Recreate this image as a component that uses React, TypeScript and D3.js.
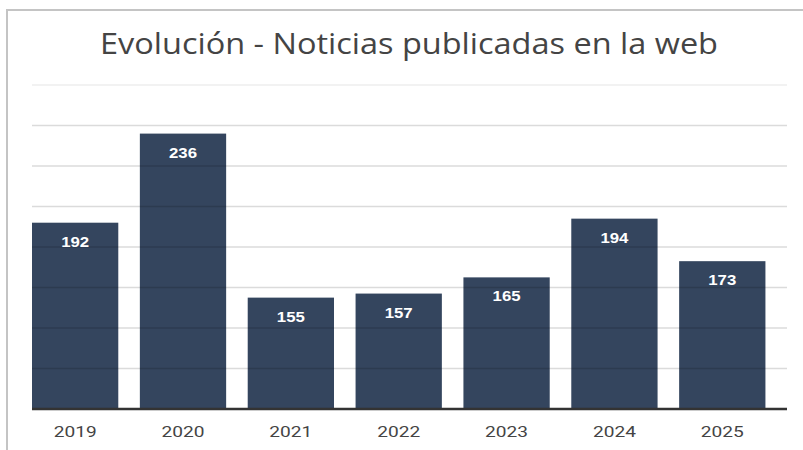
import React from "react";
import * as d3 from "d3";

const years = ["2019", "2020", "2021", "2022", "2023", "2024", "2025"];
const values = [192, 236, 155, 157, 165, 194, 173];
const gridTicks = [100, 120, 140, 160, 180, 200, 220, 240, 260];
const title = "Evolución - Noticias publicadas en la web";

export default function App() {
  const W = 803, H = 450;
  const x = d3.scaleBand<string>().domain(years).range([32, 787]).paddingInner(0.2).paddingOuter(0.1).align(0);
  const y = d3.scaleLinear().domain([100, 260]).range([409, 85]);
  return (
    <svg width={W} height={H} style={{ position: "absolute", left: 0, top: 0, background: "#fff" }}>
      <rect x={0} y={0} width={W} height={H} fill="#fff" />
      <line x1={7} x2={7} y1={9} y2={H} stroke="#c4c4c4" strokeWidth={2} />
      <line x1={6} x2={W} y1={10} y2={10} stroke="#c4c4c4" strokeWidth={2} />
      <text x={409} y={54} textAnchor="middle" fontFamily="'Open Sans', sans-serif" fontSize={29} fill="#444" textLength={618} lengthAdjust="spacingAndGlyphs">{title}</text>
      {years.map((yr, i) => (
        <rect key={yr} x={x(yr)} y={y(values[i])} width={x.bandwidth()} height={y(100) - y(values[i])} fill="#34455e" />
      ))}
      {gridTicks.slice(1).map((t) => (
        <line key={t} x1={32} x2={787} y1={y(t)} y2={y(t)} stroke={t === 260 ? "rgba(0,0,0,0.07)" : "rgba(0,0,0,0.14)"} strokeWidth={1.5} />
      ))}
      <line x1={32} x2={787} y1={409} y2={409} stroke="#333" strokeWidth={2.5} />
      {years.map((yr, i) => (
        <text key={"v" + yr} x={(x(yr) as number) + x.bandwidth() / 2} y={y(values[i]) + 24} textAnchor="middle" fontFamily="'Liberation Sans', Arial, sans-serif" fontWeight="bold" fontSize={15} fill="#fff" textLength={28} lengthAdjust="spacingAndGlyphs">{values[i]}</text>
      ))}
      {years.map((yr) => (
        <text key={"l" + yr} x={(x(yr) as number) + x.bandwidth() / 2} y={437} textAnchor="middle" fontFamily="Roboto, sans-serif" fontSize={15.5} fill="#444" textLength={43} lengthAdjust="spacingAndGlyphs">{yr}</text>
      ))}
    </svg>
  );
}
